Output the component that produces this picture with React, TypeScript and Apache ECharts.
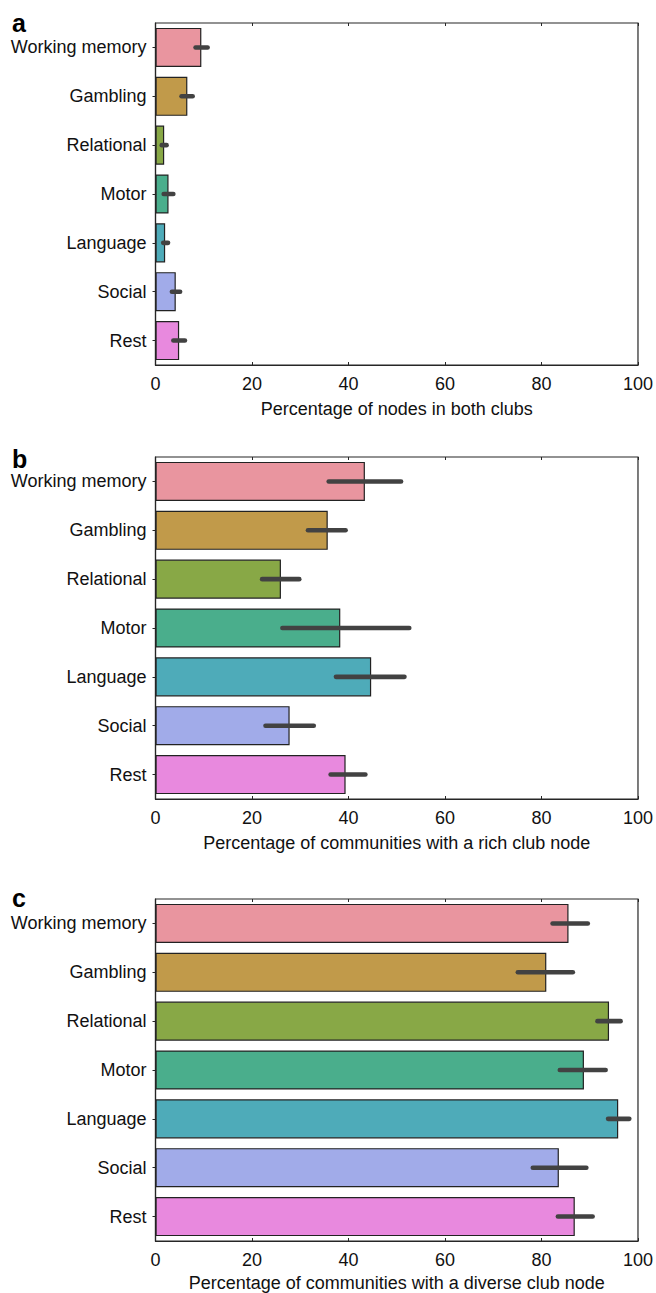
import React, { useEffect, useRef } from "react";
import * as echarts from "echarts";

const categories = ["Working memory", "Gambling", "Relational", "Motor", "Language", "Social", "Rest"];
const colors = ["#E9959F", "#C19A4A", "#88A846", "#4AAE8C", "#4EABB9", "#A1ABE9", "#E889DE"];
const xTicks = [0, 20, 40, 60, 80, 100];

const bothValues = [9.5, 6.6, 1.8, 2.7, 2.0, 4.2, 4.9];
const bothLow = [8.3, 5.4, 1.3, 1.7, 1.6, 3.4, 3.7];
const bothHigh = [10.8, 7.7, 2.3, 3.7, 2.6, 5.1, 6.1];

const richValues = [43.4, 35.7, 26.0, 38.3, 44.7, 27.8, 39.4];
const richLow = [35.9, 31.6, 22.1, 26.3, 37.4, 22.8, 36.3];
const richHigh = [50.9, 39.4, 29.8, 52.6, 51.6, 32.8, 43.5];

const diverseValues = [85.6, 81.0, 94.0, 88.8, 95.9, 83.6, 86.9];
const diverseLow = [82.3, 75.1, 91.6, 83.8, 93.8, 78.2, 83.4];
const diverseHigh = [89.6, 86.5, 96.4, 93.3, 98.2, 89.3, 90.6];

const panels = [
  { letter: "a", name: "Percentage of nodes in both clubs", values: bothValues, low: bothLow, high: bothHigh, top: 23, height: 342, nameGap: 35, letterY: 29 },
  { letter: "b", name: "Percentage of communities with a rich club node", values: richValues, low: richLow, high: richHigh, top: 457, height: 342, nameGap: 35, letterY: 465 },
  { letter: "c", name: "Percentage of communities with a diverse club node", values: diverseValues, low: diverseLow, high: diverseHigh, top: 899, height: 343, nameGap: 33, letterY: 904 },
];

const FONT = "Liberation Sans, Arial, Helvetica, sans-serif";
const LEFT = 155.5;
const WIDTH = 483.5;

export default function App() {
  const ref = useRef<HTMLDivElement>(null);
  useEffect(() => {
    if (!ref.current) return;
    const chart = echarts.init(ref.current, null, { renderer: "svg" });
    const grid: any[] = [];
    const xAxis: any[] = [];
    const yAxis: any[] = [];
    const series: any[] = [];
    const graphic: any[] = [];
    panels.forEach((p, i) => {
      grid.push({
        left: LEFT, top: p.top, width: WIDTH, height: p.height,
        show: true, borderColor: "#262626", borderWidth: 1.2, backgroundColor: "transparent",
      });
      xAxis.push({
        type: "value", gridIndex: i, min: 0, max: 100, interval: 20, position: "bottom",
        name: p.name, nameLocation: "middle", nameGap: p.nameGap,
        nameTextStyle: { fontFamily: FONT, fontSize: 18, color: "#111" },
        axisLine: { show: true, lineStyle: { color: "#262626", width: 1.2 } },
        axisTick: { show: true, inside: true, length: 3, lineStyle: { color: "#262626" } },
        axisLabel: { fontFamily: FONT, fontSize: 18, color: "#111", margin: 10,
          formatter: (v: number) => (xTicks.includes(v) ? String(v) : "") },
        splitLine: { show: false },
      });
      xAxis.push({
        type: "value", gridIndex: i, min: 0, max: 100, interval: 20, position: "top",
        axisLine: { show: false },
        axisTick: { show: true, inside: true, length: 3, lineStyle: { color: "#262626" } },
        axisLabel: { show: false }, splitLine: { show: false },
      });
      yAxis.push({
        type: "category", gridIndex: i, data: categories, inverse: true, position: "left",
        axisLine: { show: true, lineStyle: { color: "#262626", width: 1.2 } },
        axisTick: { show: false },
        axisLabel: { fontFamily: FONT, fontSize: 18, color: "#111", margin: 9, padding: [0, 0, 6, 0] },
      });
      yAxis.push({
        type: "category", gridIndex: i, data: categories, inverse: true, position: "right",
        axisLine: { show: false },
        axisTick: { show: true, inside: true, length: 3, alignWithLabel: true, lineStyle: { color: "#262626" } },
        axisLabel: { show: false },
      });
      series.push({
        type: "bar", xAxisIndex: i * 2, yAxisIndex: i * 2, barCategoryGap: "20%",
        data: p.values.map((v, k) => ({
          value: v,
          itemStyle: { color: colors[k], borderColor: "#222", borderWidth: 1.2 },
        })),
        silent: true,
      });
      series.push({
        type: "custom", xAxisIndex: i * 2, yAxisIndex: i * 2, z: 5, silent: true,
        encode: { x: [0, 1], y: 2 },
        data: p.low.map((lo, k) => [lo, p.high[k], k]),
        renderItem: (params: any, api: any) => {
          const a = api.coord([api.value(0), api.value(2)]);
          const b = api.coord([api.value(1), api.value(2)]);
          return {
            type: "line",
            shape: { x1: a[0], y1: a[1], x2: b[0], y2: b[1] },
            style: { stroke: "#424242", lineWidth: 4.6, lineCap: "round" },
          };
        },
      });
      graphic.push({
        type: "text", left: 12, top: p.letterY - 19,
        style: { text: p.letter, fontFamily: FONT, fontSize: 25, fontWeight: "bold", fill: "#000" },
      });
    });
    chart.setOption({
      animation: false,
      backgroundColor: "#fff",
      grid, xAxis, yAxis, series, graphic,
    });
    return () => chart.dispose();
  }, []);
  return (
    <div
      ref={ref}
      style={{ position: "fixed", left: 0, top: 0, width: 656, height: 1293 }}
    />
  );
}
